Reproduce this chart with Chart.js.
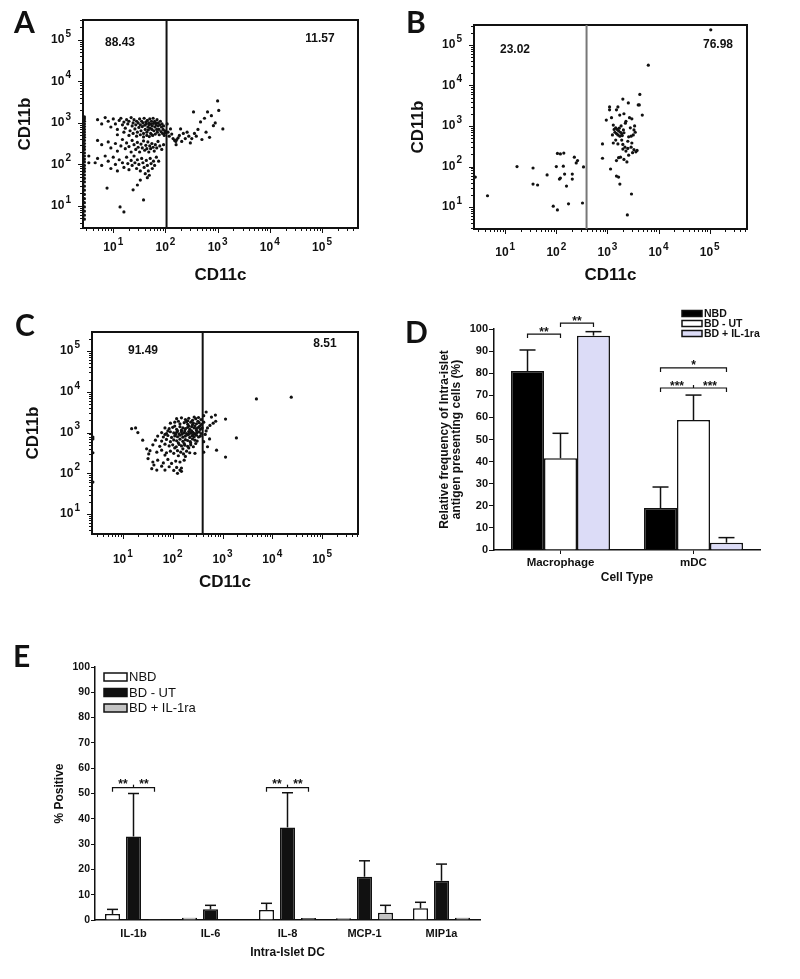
<!DOCTYPE html>
<html lang="en">
<head>
<meta charset="UTF-8">
<title>Intra-islet antigen presenting cells</title>
<script src="https://cdn.jsdelivr.net/npm/chart.js@4.4.0/dist/chart.umd.min.js"></script>
<style>
    body { margin: 0; background: #fff; }
    .page { position: relative; width: 800px; height: 979px; overflow: hidden; background: #fff; }
    canvas { position: absolute; }
    .letter {
        position: absolute;
        font-family: Lato, 'Liberation Sans', sans-serif;
        font-weight: 700;
        font-size: 30px;
        line-height: 1;
        color: #111;
    }
</style>
</head>
<body>
<div class="page">
    <canvas id="chartA" width="400" height="300" style="left:0;top:0"></canvas>
    <canvas id="chartB" width="400" height="300" style="left:400px;top:0"></canvas>
    <canvas id="chartC" width="400" height="300" style="left:0;top:300px"></canvas>
    <canvas id="chartD" width="380" height="310" style="left:420px;top:300px"></canvas>
    <canvas id="chartE" width="520" height="349" style="left:0;top:630px"></canvas>
    <div class="letter" style="left:14px;top:6px">A</div>
    <div class="letter" style="left:406px;top:6px">B</div>
    <div class="letter" style="left:15px;top:309px">C</div>
    <div class="letter" style="left:405px;top:316px">D</div>
    <div class="letter" style="left:13px;top:640px">E</div>
</div>

<script>
// ---------- data ----------
const decadeValues = [10, 100, 1000, 10000, 100000];
const decadeExps = ['1', '2', '3', '4', '5'];
const flowTitleX = 'CD11c';
const flowTitleY = 'CD11b';

// panel A (CD11c, CD11b)
const aRangeX = [2.63, 490000];
const aRangeY = [2.95, 302000];
const aGate = 105;
const aPercents = ['88.43', '11.57'];
const aPoints = [
    [2.8,1400],[2.8,1250],[2.8,1100],[2.8,950],[2.8,820],[2.8,700],[2.8,600],[2.8,520],[2.8,450],[2.8,380],
    [2.8,320],[2.8,270],[2.8,230],[2.8,190],[2.8,160],[2.8,135],[2.8,115],[2.8,95],[2.8,80],[2.8,68],
    [2.8,56],[2.8,46],[2.8,38],[2.8,30],[2.8,24],[2.8,19],[2.8,15],[2.8,12],[2.8,9.5],[2.8,7.5],
    [2.8,6],[2.8,4.8],[3.4,110],[3.4,160],
    [5,1200],[6,950],[7,1350],[8,1100],[9,800],[10,1250],[11,950],[12,700],[13,1150],[14,1300],
    [15,900],[16,1050],[17,750],[18,1200],[19,950],[20,1100],[21,650],[22,1350],[23,850],[24,1000],
    [25,1200],[26,720],[27,900],[28,1100],[29,600],[30,1000],[31,780],[32,1250],[33,900],[34,650],
    [35,1100],[36,820],[37,1000],[38,560],[39,1300],[40,880],[41,700],[42,1050],[43,950],[44,600],
    [45,1150],[46,800],[47,680],[48,1000],[49,900],[50,1250],[51,750],[52,560],[53,950],[54,1100],
    [55,700],[56,850],[57,500],[58,1300],[59,980],[60,650],[62,1100],[63,800],[64,540],[65,1000],
    [66,900],[68,700],[69,1200],[70,600],[72,850],[73,1000],[75,700],[76,520],[78,900],[80,1100],
    [82,620],[84,800],[86,950],[88,560],[90,700],[92,850],[95,500],[97,650],[99,580],
    [12,520],[16,600],[20,500],[24,560],[28,480],[33,520],[38,460],[44,500],[49,470],[55,520],
    [5,380],[6,300],[8,350],[9,250],[11,320],[12,210],[14,280],[15,400],[17,240],[18,330],
    [20,270],[22,200],[23,380],[25,300],[27,230],[29,340],[30,260],[32,200],[34,310],[36,250],
    [38,370],[40,220],[42,290],[44,240],[46,350],[48,200],[50,280],[52,240],[55,320],[58,260],
    [61,210],[64,300],[68,250],[72,360],[78,280],[85,230],[92,300],
    [4.5,110],[5,140],[6,95],[7,160],[8,120],[9,80],[10,150],[11,100],[12,70],[13,130],
    [15,110],[16,85],[18,150],[19,105],[20,75],[22,125],[23,95],[25,160],[26,110],[28,80],
    [29,130],[31,100],[33,70],[35,140],[37,110],[39,85],[41,60],[43,125],[45,95],[47,70],
    [49,55],[51,140],[53,105],[56,80],[59,120],[62,95],[67,150],[74,120],
    [7.6,27],[13.5,9.5],[16,7.2],[38,14],[24,24.5],[29,32],[33,42],[45,48],
    [108,950],[112,600],[118,480],[125,720],[132,540],[140,420],[150,380],[158,360],[165,400],[175,440],
    [185,500],[195,720],[205,360],[220,560],[240,420],[260,600],[280,480],[300,330],[320,420],[345,1840],
    [360,560],[390,480],[420,700],[470,1060],[500,400],[560,1300],[600,600],[640,1840],[700,450],[760,1500],
    [830,860],[900,1000],[1000,3400],[1050,2000],[1260,720],[160,300]
];

// panel B
const bRangeX = [2.45, 537000];
const bRangeY = [2.88, 309000];
const bGate = 390;
const bPercents = ['23.02', '76.98'];
const bPoints = [
    [17,100],[35,92],[66,62],[35,37],[43,35],[105,210],[120,205],[140,215],[137,102],[225,170],
    [245,123],[340,98],[115,49],[120,52],[145,65],[205,65],[205,49],[158,33],[4.5,19],[87,10.5],
    [105,8.5],[173,12],[325,12.6],[2.6,55],[100,100],[260,140],
    [4300,6000],[2000,4600],[4000,3300],[4200,3300],[2560,3700],[1100,2950],[1100,2500],[1600,2950],[1500,2500],[1740,1860],
    [4800,1860],[950,1400],[3000,1500],[1300,1050],[2240,1170],[3400,1000],
    [1450,900],[1550,820],[1650,760],[1700,880],[1800,700],[1900,640],[2050,800],[1500,650],[1600,600],[1750,560],
    [1400,700],[1950,580],[2100,680],[1350,820],[2800,900],[3300,800],[3200,600],[3500,700],[2900,560],[2600,540],
    [800,360],[1300,380],[1600,360],[2000,350],[2200,300],[2900,300],[3300,260],[3600,230],[3800,250],[3100,220],
    [2500,280],[2000,270],[2300,240],[2600,190],[1650,165],[1800,170],[2100,150],[2400,130],[1500,140],[800,160],
    [1150,87],[1500,58],[1650,55],[1750,37],[2950,21],[2450,6.4],[6300,31600],[105000,235000],
    [1250,600],[1850,1000],[2300,1300],[2700,1600],[1200,1600],[2100,2000],[1450,450],[1900,450],[2500,420],[3000,380]
];

// panel C
const cRangeX = [2.4, 525000];
const cRangeY = [3.24, 295000];
const cGate = 400;
const cPercents = ['91.49', '8.51'];
const cPoints = [
    [120,2200],[150,2300],[180,2100],[210,2250],[250,2000],[290,2200],[330,2350],[370,2100],[200,1950],[270,2400],
    [90,1700],[110,1800],[140,1650],[170,1750],[200,1600],[230,1800],[260,1700],[300,1650],[340,1750],[380,1600],
    [130,1900],[190,1850],[250,1550],[320,1900],
    [70,1300],[85,1250],[100,1350],[120,1200],[140,1400],[160,1300],[180,1250],[200,1350],[220,1200],[240,1400],
    [270,1300],[300,1250],[330,1350],[360,1200],[390,1300],[110,1450],[150,1150],[210,1450],[280,1450],[350,1450],
    [60,1000],[75,950],[90,1050],[105,980],[120,1020],[135,930],[150,1050],[170,990],[190,940],[210,1060],
    [230,980],[255,1020],[280,940],[310,1000],[340,1050],[370,950],[80,1100],[125,1100],[175,1100],[240,1100],[300,1120],
    [50,820],[65,780],[80,850],[95,760],[110,830],[125,790],[140,860],[160,770],[180,820],[200,880],
    [220,760],[245,840],[270,790],[300,860],[330,780],[360,820],[70,900],[115,900],[155,920],[210,910],[260,900],
    [45,650],[60,620],[75,680],[90,600],[105,660],[120,630],[140,690],[160,610],[180,670],[200,640],
    [225,600],[250,700],[280,650],[310,620],[130,560],[170,540],[230,560],[290,540],
    [40,500],[55,460],[70,520],[85,470],[100,500],[118,450],[135,510],[150,470],[175,490],[200,460],
    [230,500],[260,450],[110,420],[160,400],[210,420],
    [35,360],[48,330],[60,370],[75,320],[90,350],[105,310],[125,360],[145,330],[165,300],[190,350],
    [220,320],[280,310],[70,280],[130,270],[180,260],
    [32,230],[40,190],[50,210],[65,180],[80,220],[95,175],[115,200],[140,190],[170,210],[60,150],
    [85,145],[120,140],[150,135],[42,160],
    [38,130],[48,120],[70,120],[105,118],[125,100],[140,120],[150,112],
    [15,1250],[18,1300],[20,1000],[25,650],[30,400],[33,300],
    [470,3200],[720,2700],[600,2400],[1150,2150],[730,1900],[560,1500],[470,1100],[1900,740],[760,370],[1150,250],
    [420,1800],[500,1300],[450,900],[550,700],[420,600],[500,450],[420,330],[650,1700],[420,2600],
    [4800,6700],[24000,7400],
    [2.5,780],[2.5,700],[2.5,320],[2.5,61]
];

// panel D
const dCategories = ['Macrophage', 'mDC'];
const dSeries = ['NBD', 'BD - UT', 'BD + IL-1ra'];
const dNBD = [81, 19];
const dNBDErr = [9.5, 9.5];
const dUT = [41.5, 58.8];
const dUTErr = [11.3, 11.3];
const dIL1ra = [97, 3.3];
const dIL1raErr = [1.8, 2.3];
const dBrackets = [
    { cat: 0, bars: [0, 1], y: 97.7, stars: ['**'] },
    { cat: 0, bars: [1, 2], y: 102.7, stars: ['**'] },
    { cat: 1, bars: [0, 2], y: 82.4, stars: ['*'] },
    { cat: 1, bars: [0, 1, 2], y: 73.3, stars: ['***', '***'] }
];

// panel E
const eCategories = ['IL-1b', 'IL-6', 'IL-8', 'MCP-1', 'MIP1a'];
const eSeries = ['NBD', 'BD - UT', 'BD + IL-1ra'];
const eNBD = [2.4, 0.9, 4.0, 0.7, 4.6];
const eNBDErr = [1.8, 0, 2.6, 0, 2.4];
const eUT = [33, 4.2, 36.6, 17.1, 15.5];
const eUTErr = [17, 1.6, 13.7, 6.3, 6.6];
const eIL1ra = [0.3, 0.1, 0.8, 2.9, 0.9];
const eIL1raErr = [0, 0, 0, 2.9, 0];
const eBrackets = [
    { cat: 0, bars: [0, 1, 2], y: 52.3, stars: ['**', '**'] },
    { cat: 2, bars: [0, 1, 2], y: 52.3, stars: ['**', '**'] }
];

// ---------- helpers ----------
const FONT = "'Liberation Sans', Arial, sans-serif";
Chart.defaults.font.family = FONT;
Chart.defaults.color = '#111';

function seg(ctx, x1, y1, x2, y2) {
    ctx.beginPath(); ctx.moveTo(x1, y1); ctx.lineTo(x2, y2); ctx.stroke();
}

// tick marks for a log axis: 1..9 x 10^n inside the range
function logTicks(min, max) {
    const out = [];
    for (let e = -1; e <= 6; e++) {
        for (let m = 1; m < 10; m++) {
            const v = m * Math.pow(10, e);
            if (v >= min && v <= max) out.push({ v: v, major: m === 1 });
        }
    }
    return out;
}

// "10" with a raised exponent, centred on (cx, cy) or right-aligned at cx
function drawPow(ctx, cx, cy, exp, alignRight) {
    ctx.font = 'bold 12px ' + FONT;
    const w1 = ctx.measureText('10').width;
    ctx.font = 'bold 10px ' + FONT;
    const w2 = ctx.measureText(exp).width;
    const total = w1 + w2 + 1;
    const x0 = alignRight ? cx - total : cx - total / 2;
    ctx.textAlign = 'left';
    ctx.textBaseline = 'middle';
    ctx.font = 'bold 12px ' + FONT;
    ctx.fillText('10', x0, cy);
    ctx.font = 'bold 10px ' + FONT;
    ctx.fillText(exp, x0 + w1 + 1, cy - 6);
}

function flowPlugin(cfg) {
    return {
        id: 'flowDecor',
        afterDraw(chart) {
            const { ctx, chartArea: a, scales: { x, y } } = chart;
            const L = cfg.look;
            ctx.save();
            ctx.fillStyle = '#111';
            // frame
            ctx.strokeStyle = '#111';
            ctx.lineWidth = 2;
            ctx.strokeRect(a.left, a.top, a.right - a.left, a.bottom - a.top);
            // gate
            const gx = x.getPixelForValue(cfg.gate);
            ctx.strokeStyle = L.gateColor;
            ctx.lineWidth = 2;
            seg(ctx, gx, a.top, gx, a.bottom);
            // ticks
            ctx.strokeStyle = '#111';
            ctx.lineWidth = 1;
            logTicks(x.min, x.max).forEach(t => {
                const px = Math.round(x.getPixelForValue(t.v)) + 0.5;
                seg(ctx, px, a.bottom, px, a.bottom + (t.major ? 5 : 3));
            });
            logTicks(y.min, y.max).forEach(t => {
                const py = Math.round(y.getPixelForValue(t.v)) + 0.5;
                seg(ctx, a.left, py, a.left - (t.major ? 5 : 3), py);
            });
            // tick labels
            decadeValues.forEach((v, i) => {
                drawPow(ctx, x.getPixelForValue(v), a.bottom + L.xLab, decadeExps[i], false);
                drawPow(ctx, a.left - 12, y.getPixelForValue(v), decadeExps[i], true);
            });
            // axis titles
            ctx.font = 'bold 17px ' + FONT;
            ctx.textAlign = 'center';
            ctx.textBaseline = 'middle';
            ctx.fillText(flowTitleX, (a.left + a.right) / 2, a.bottom + L.xTitle);
            ctx.save();
            ctx.translate(a.left - L.yTitle, (a.top + a.bottom) / 2);
            ctx.rotate(-Math.PI / 2);
            ctx.fillText(flowTitleY, 0, 0);
            ctx.restore();
            // gate percentages
            ctx.font = 'bold 12px ' + FONT;
            ctx.fillText(cfg.percents[0], a.left + L.pct[0], a.top + L.pct[1]);
            ctx.fillText(cfg.percents[1], a.right - L.pct[2], a.top + L.pct[3]);
            ctx.restore();
        }
    };
}

function flowChart(id, points, rangeX, rangeY, gate, percents, look) {
    return new Chart(document.getElementById(id), {
        type: 'scatter',
        data: {
            datasets: [{
                data: points,
                pointRadius: 1.6,
                pointBackgroundColor: '#111',
                pointBorderWidth: 0
            }]
        },
        options: {
            responsive: false,
            animation: false,
            events: [],
            layout: { padding: { left: 0, right: look.padR, top: look.padT, bottom: 0 } },
            plugins: { legend: { display: false }, tooltip: { enabled: false } },
            scales: {
                x: {
                    type: 'logarithmic', min: rangeX[0], max: rangeX[1],
                    grid: { display: false }, border: { display: false }, ticks: { display: false },
                    afterFit: s => { s.height = look.xH; }
                },
                y: {
                    type: 'logarithmic', min: rangeY[0], max: rangeY[1],
                    grid: { display: false }, border: { display: false }, ticks: { display: false },
                    afterFit: s => { s.width = look.yW; }
                }
            }
        },
        plugins: [flowPlugin({ gate: gate, percents: percents, look: look })]
    });
}

function barPlugin(cfg) {
    return {
        id: 'barDecor',
        afterDatasetsDraw(chart) {
            const { ctx, scales: { y } } = chart;
            ctx.save();
            ctx.strokeStyle = '#111';
            ctx.lineWidth = 1.5;
            chart.data.datasets.forEach((ds, i) => {
                const meta = chart.getDatasetMeta(i);
                cfg.errors[i].forEach((err, j) => {
                    if (!err) return;
                    const bar = meta.data[j];
                    const top = y.getPixelForValue(ds.data[j] + err);
                    seg(ctx, bar.x, bar.y, bar.x, top);
                    seg(ctx, bar.x - cfg.cap / 2, top, bar.x + cfg.cap / 2, top);
                });
            });
            ctx.restore();
        },
        afterDraw(chart) {
            const { ctx, chartArea: a, scales: { y } } = chart;
            ctx.save();
            ctx.strokeStyle = '#111';
            ctx.fillStyle = '#111';
            ctx.lineWidth = 1.2;
            // significance brackets
            cfg.brackets.forEach(b => {
                const xs = b.bars.map(k => chart.getDatasetMeta(k).data[b.cat].x);
                const x1 = xs[0], x2 = xs[xs.length - 1];
                const py = y.getPixelForValue(b.y);
                ctx.beginPath();
                ctx.moveTo(x1, py + 4); ctx.lineTo(x1, py); ctx.lineTo(x2, py); ctx.lineTo(x2, py + 4);
                ctx.stroke();
                ctx.font = 'bold 12px ' + FONT;
                ctx.textAlign = 'center';
                ctx.textBaseline = 'alphabetic';
                if (xs.length === 3) {
                    seg(ctx, xs[1], py, xs[1], py - 3);
                    ctx.fillText(b.stars[0], (x1 + xs[1]) / 2, py + cfg.starDy);
                    ctx.fillText(b.stars[1], (xs[1] + x2) / 2, py + cfg.starDy);
                } else {
                    ctx.fillText(b.stars[0], (x1 + x2) / 2, py + cfg.starDy);
                }
            });
            // legend
            const lg = cfg.legend;
            chart.data.datasets.forEach((ds, i) => {
                const ly = lg.y + i * lg.dy;
                ctx.fillStyle = ds.backgroundColor;
                ctx.fillRect(lg.x, ly - lg.h / 2, lg.w, lg.h);
                ctx.lineWidth = 1.5;
                ctx.strokeRect(lg.x, ly - lg.h / 2, lg.w, lg.h);
                ctx.fillStyle = '#111';
                ctx.font = lg.font;
                ctx.textAlign = 'left';
                ctx.textBaseline = 'middle';
                ctx.fillText(ds.label, lg.x + lg.w + 2, ly + 0.5);
            });
            // axis titles
            ctx.font = 'bold 12px ' + FONT;
            ctx.textAlign = 'center';
            ctx.textBaseline = 'middle';
            ctx.fillText(cfg.xTitle, (a.left + a.right) / 2, cfg.xTitleY);
            ctx.save();
            ctx.translate(0, (a.top + a.bottom) / 2);
            ctx.rotate(-Math.PI / 2);
            cfg.yTitle.forEach((t, k) => ctx.fillText(t, 0, cfg.yTitleX[k]));
            ctx.restore();
            ctx.restore();
        }
    };
}

// ---------- panels A, B, C ----------
flowChart('chartA', aPoints, aRangeX, aRangeY, aGate, aPercents,
    { yW: 83, padR: 42, padT: 20, xH: 72, xLab: 20, xTitle: 47, yTitle: 58, gateColor: '#111', pct: [37, 23, 38, 19] });
flowChart('chartB', bPoints, bRangeX, bRangeY, bGate, bPercents,
    { yW: 74, padR: 53, padT: 25, xH: 71, xLab: 24, xTitle: 46, yTitle: 56, gateColor: '#777', pct: [41, 25, 29, 20] });
flowChart('chartC', cPoints, cRangeX, cRangeY, cGate, cPercents,
    { yW: 92, padR: 42, padT: 32, xH: 66, xLab: 26, xTitle: 48, yTitle: 59, gateColor: '#111', pct: [51, 19, 33, 12] });

// ---------- panel D ----------
new Chart(document.getElementById('chartD'), {
    type: 'bar',
    data: {
        labels: dCategories,
        datasets: [
            { label: dSeries[0], data: dNBD, backgroundColor: '#000000' },
            { label: dSeries[1], data: dUT, backgroundColor: '#ffffff' },
            { label: dSeries[2], data: dIL1ra, backgroundColor: '#dcdcf7' }
        ].map(d => Object.assign(d, { borderColor: '#111', borderWidth: 1.5, categoryPercentage: 0.744, barPercentage: 1 }))
    },
    options: {
        responsive: false,
        animation: false,
        events: [],
        layout: { padding: { left: 0, right: 40, top: 29, bottom: 0 } },
        plugins: { legend: { display: false }, tooltip: { enabled: false } },
        scales: {
            x: {
                grid: { drawOnChartArea: false, offset: false, tickLength: 4, color: '#111' },
                border: { color: '#111', width: 1.5 },
                ticks: { font: { weight: 'bold', size: 11.5 }, padding: 2, color: '#111' },
                afterFit: s => { s.height = 60; }
            },
            y: {
                min: 0, max: 100,
                grid: { drawOnChartArea: false, tickLength: 5, color: '#111' },
                border: { color: '#111', width: 1.5 },
                ticks: { stepSize: 10, font: { weight: 'bold', size: 11 }, padding: 1, color: '#111' },
                afterFit: s => { s.width = 74; }
            }
        }
    },
    plugins: [barPlugin({
        errors: [dNBDErr, dUTErr, dIL1raErr],
        cap: 16,
        brackets: dBrackets,
        starDy: 1.5,
        legend: { x: 262, y: 13.5, dy: 10, w: 20, h: 6, font: 'bold 10.5px ' + FONT },
        xTitle: 'Cell Type', xTitleY: 278,
        yTitle: ['Relative frequency of Intra-islet', 'antigen presenting cells (%)'], yTitleX: [25, 37]
    })]
});

// ---------- panel E ----------
new Chart(document.getElementById('chartE'), {
    type: 'bar',
    data: {
        labels: eCategories,
        datasets: [
            { label: eSeries[0], data: eNBD, backgroundColor: '#ffffff' },
            { label: eSeries[1], data: eUT, backgroundColor: '#111111' },
            { label: eSeries[2], data: eIL1ra, backgroundColor: '#c4c4c4' }
        ].map(d => Object.assign(d, { borderColor: '#111', borderWidth: 1.5, categoryPercentage: 0.818, barPercentage: 0.714 }))
    },
    options: {
        responsive: false,
        animation: false,
        events: [],
        layout: { padding: { left: 0, right: 40, top: 37, bottom: 0 } },
        plugins: { legend: { display: false }, tooltip: { enabled: false } },
        scales: {
            x: {
                grid: { display: false, drawTicks: false },
                border: { color: '#111', width: 1.5 },
                ticks: { font: { weight: 'bold', size: 11 }, padding: 7, color: '#111' },
                afterFit: s => { s.height = 59; }
            },
            y: {
                min: 0, max: 100,
                grid: { drawOnChartArea: false, tickLength: 4, color: '#111' },
                border: { color: '#111', width: 1.5 },
                ticks: { stepSize: 10, font: { weight: 'bold', size: 10.5 }, padding: 1, color: '#111' },
                afterFit: s => { s.width = 95; }
            }
        }
    },
    plugins: [barPlugin({
        errors: [eNBDErr, eUTErr, eIL1raErr],
        cap: 11,
        brackets: eBrackets,
        starDy: 0.5,
        legend: { x: 104, y: 47, dy: 15.5, w: 23, h: 8, font: '13px ' + FONT },
        xTitle: 'Intra-Islet DC', xTitleY: 323,
        yTitle: ['% Positive'], yTitleX: [60]
    })]
});
</script>
</body>
</html>
